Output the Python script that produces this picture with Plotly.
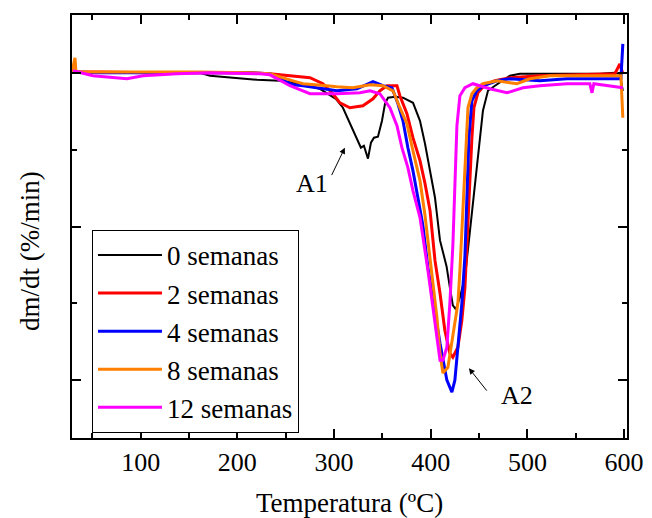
import plotly.graph_objects as go

# Temperature (ºC) and dm/dt (%/min)
t_0 = [29.0, 57.9, 109.6, 161.3, 171.7, 195.4, 220.3, 244.0, 264.7, 285.4, 301.9, 309.2, 319.5, 327.8, 330.9,
       335.1, 338.2, 341.3, 345.4, 349.6, 352.7, 355.8, 363.1, 371.3, 381.7, 388.9, 394.1, 399.3, 404.4, 409.6,
       416.4, 419.8, 422.9, 426.0, 430.2, 435.4, 440.5, 443.6, 447.4, 450.9, 454.0, 459.2, 466.4, 481.9, 492.2,
       533.6, 575.0, 590.5, 595.6, 598.7]
v_0 = [0.06, 0.06, 0.06, 0.0, -0.19, -0.32, -0.45, -0.52, -0.71, -1.04, -1.69, -2.27, -3.76, -4.87, -4.74,
       -5.58, -4.54, -4.22, -4.15, -3.12, -2.01, -1.62, -1.56, -1.62, -1.95, -3.12, -4.61, -6.36, -8.11, -10.90,
       -12.59, -13.95, -15.12, -15.38, -14.60, -13.30, -10.38, -8.31, -6.36, -4.41, -2.47, -1.17, -0.84, -0.19, -0.06,
       -0.06, -0.06, 0.0, -0.06, -1.17]

t_2 = [29.0, 57.9, 109.6, 161.3, 213.0, 233.7, 257.5, 275.1, 288.5, 298.8, 306.1, 316.4, 329.9, 340.3, 347.4,
       354.7, 365.1, 368.1, 375.4, 381.6, 388.9, 394.1, 399.3, 404.4, 409.6, 414.6, 419.8, 422.9, 428.1, 432.2,
       435.4, 438.5, 440.5, 442.6, 444.7, 448.8, 456.0, 466.4, 481.9, 512.9, 554.3, 590.5, 595.6, 598.7]
v_2 = [0.06, 0.06, 0.0, 0.0, 0.0, -0.06, -0.19, -0.32, -0.71, -1.36, -1.95, -2.27, -2.14, -1.69, -1.17,
       -0.84, -0.84, -1.49, -2.66, -4.22, -5.71, -7.20, -8.96, -12.20, -14.34, -16.74, -18.24, -18.50, -17.85, -16.10,
       -13.95, -10.25, -7.01, -4.22, -2.27, -1.30, -0.78, -0.52, -0.32, -0.19, -0.13, -0.06, 0.58, -0.06]

t_4 = [29.0, 57.9, 109.6, 161.3, 213.0, 233.7, 257.5, 268.0, 292.7, 303.0, 323.7, 340.3, 350.6, 359.9, 366.1,
       371.3, 376.4, 381.6, 386.7, 391.9, 397.1, 404.4, 409.6, 416.7, 421.9, 425.0, 428.1, 432.2, 435.4, 437.5,
       439.5, 442.6, 447.7, 454.0, 468.5, 481.9, 512.9, 540.9, 575.0, 596.7, 598.7]
v_4 = [0.06, 0.0, 0.0, 0.0, 0.0, -0.06, -0.78, -0.84, -1.04, -1.17, -1.04, -0.58, -0.84, -0.97, -2.01,
       -3.12, -4.87, -6.36, -8.11, -9.93, -12.66, -15.45, -17.59, -19.99, -20.77, -19.99, -17.85, -14.99, -11.88, -8.31,
       -4.22, -1.82, -1.17, -0.84, -0.52, -0.39, -0.52, -0.39, -0.39, -0.39, 1.88]

t_8 = [29.0, 32.1, 33.1, 57.9, 109.6, 161.3, 213.0, 233.7, 257.5, 268.0, 292.7, 303.0, 319.5, 337.2, 350.6,
       361.0, 368.1, 375.4, 381.6, 388.9, 394.1, 401.2, 406.4, 409.6, 412.6, 417.8, 422.9, 428.1, 430.2, 432.2,
       436.4, 438.5, 442.6, 447.7, 454.0, 468.5, 481.9, 489.1, 502.6, 523.3, 540.9, 575.0, 596.7, 598.7]
v_8 = [0.06, 0.97, 0.06, 0.06, 0.06, 0.06, 0.0, -0.06, -0.52, -0.71, -0.84, -0.91, -0.97, -0.78, -0.84,
       -1.17, -2.27, -3.31, -5.06, -7.01, -9.28, -13.04, -15.90, -18.24, -19.53, -19.15, -17.20, -14.99, -12.85, -10.25,
       -4.22, -2.27, -1.36, -0.97, -0.71, -0.52, -0.65, -0.71, -0.39, -0.19, -0.19, -0.19, -0.19, -2.92]

t_12 = [30.0, 50.7, 85.8, 102.4, 137.5, 171.7, 223.4, 233.7, 254.4, 275.1, 303.0, 326.8, 337.2, 347.4, 357.8,
        365.1, 370.2, 376.4, 381.6, 388.9, 397.1, 402.2, 406.4, 409.6, 412.6, 416.7, 419.8, 422.9, 425.0, 427.1,
        430.2, 435.4, 443.6, 461.2, 478.8, 495.4, 512.9, 540.9, 564.6, 566.8, 568.7, 598.7]
v_12 = [0.13, -0.19, -0.39, -0.19, -0.06, 0.0, -0.06, -0.13, -0.84, -1.36, -1.36, -1.30, -1.17, -1.36, -2.27,
        -3.44, -4.87, -6.17, -7.66, -9.41, -12.85, -15.45, -17.20, -18.69, -18.69, -17.85, -14.99, -11.23, -7.66, -3.44,
        -1.49, -0.97, -0.71, -1.04, -1.30, -0.97, -0.84, -0.71, -0.71, -1.30, -0.71, -0.97]

series_names = ["0 semanas", "2 semanas", "4 semanas", "8 semanas", "12 semanas"]
series_t = [t_0, t_2, t_4, t_8, t_12]
series_v = [v_0, v_2, v_4, v_8, v_12]
colors = ["#000000", "#FF0000", "#0000FF", "#FF8000", "#FF00FF"]
widths = [2, 3, 3, 3, 3]

FONT = "Liberation Serif"

fig = go.Figure()
for name, t, v, c, w in zip(series_names, series_t, series_v, colors, widths):
    fig.add_trace(go.Scatter(x=t, y=v, mode="lines", name=name,
                             line=dict(color=c, width=w)))

axis_common = dict(showline=True, linecolor="black", linewidth=2, mirror="allticks",
                   ticks="inside", tickcolor="black", tickwidth=1.5, ticklen=9,
                   showgrid=False, zeroline=False)

fig.update_xaxes(range=[29, 603], tick0=0, dtick=100,
                 minor=dict(dtick=50, ticks="inside", ticklen=5, tickwidth=1.5, tickcolor="black", showgrid=False),
                 tickfont=dict(family=FONT, size=26, color="black"),
                 **axis_common)
fig.update_yaxes(range=[-23.75, 3.76], tick0=0, dtick=10, showticklabels=False,
                 minor=dict(dtick=5, ticks="inside", ticklen=5, tickwidth=1.5, tickcolor="black", showgrid=False),
                 **axis_common)

fig.update_layout(
    width=644, height=510,
    margin=dict(l=64, r=25, t=5, b=80),
    paper_bgcolor="white", plot_bgcolor="white",
    font=dict(family=FONT, size=26, color="black"),
    showlegend=True,
    legend=dict(x=0.036, y=0.492, xanchor="left", yanchor="top",
                bgcolor="white", bordercolor="black", borderwidth=1,
                font=dict(family=FONT, size=27, color="black"),
                itemwidth=64, tracegroupgap=0),
    annotations=[
        dict(text="Temperatura (ºC)", xref="paper", yref="paper", x=0.5, y=-0.153,
             xanchor="center", yanchor="middle", showarrow=False,
             font=dict(family=FONT, size=27, color="black")),
        dict(text="dm/dt (%/min)", xref="paper", yref="paper", x=-0.0757, y=0.442,
             xanchor="center", yanchor="middle", textangle=-90, showarrow=False,
             font=dict(family=FONT, size=27, color="black")),
        dict(text="A1", x=277.1, y=-7.20, xref="x", yref="y", showarrow=False,
             font=dict(family=FONT, size=26, color="black")),
        dict(text="A2", x=489.1, y=-20.96, xref="x", yref="y", showarrow=False,
             font=dict(family=FONT, size=26, color="black")),
        dict(text="", x=311.2, y=-4.87, ax=296.8, ay=-6.75, xref="x", yref="y",
             axref="x", ayref="y", showarrow=True, arrowhead=2, arrowsize=1.2,
             arrowwidth=1, arrowcolor="black"),
        dict(text="", x=439.5, y=-19.21, ax=459.2, ay=-20.77, xref="x", yref="y",
             axref="x", ayref="y", showarrow=True, arrowhead=2, arrowsize=1.2,
             arrowwidth=1, arrowcolor="black"),
    ],
)

fig.write_html("out.html")
